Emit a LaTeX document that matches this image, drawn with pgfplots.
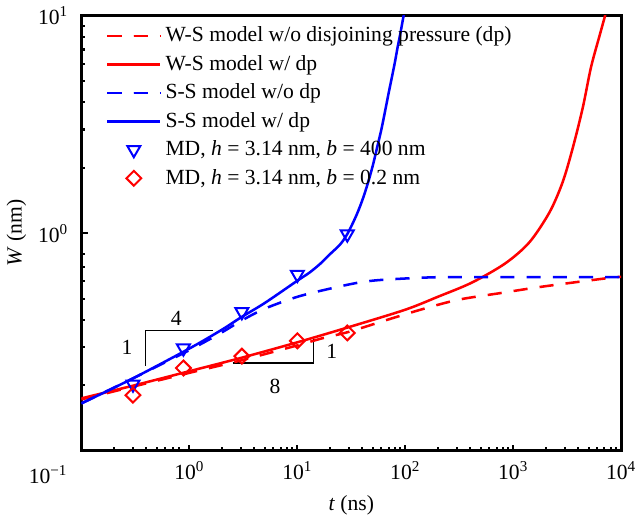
\documentclass[border=0pt]{standalone}
\usepackage{fontspec}
\setmainfont{Liberation Serif}
\usepackage{pgfplots}
\pgfplotsset{compat=1.18}
\begin{document}
\begin{tikzpicture}[font=\fontsize{10.7}{13}\selectfont]
\begin{axis}[scale only axis,width=267.5pt,height=215.5pt,
  xmode=log,ymode=log,xmin=0.1,xmax=10000,ymin=0.1,ymax=10,
  axis line style={line width=1.5pt},tick pos=left,tick align=inside,
  major tick length=3pt,minor tick length=1.8pt,every tick/.style={black,line width=1pt},
  xtick={0.1,1,10,100,1000,10000},xticklabels={,10\textsuperscript{0},10\textsuperscript{1},10\textsuperscript{2},10\textsuperscript{3},10\textsuperscript{4}},
  minor xtick={0.2,0.3,...,0.9,2,3,...,9,20,30,...,90,200,300,...,900,2000,3000,...,9000},
  ytick={0.1,1,10},yticklabels={,10\textsuperscript{0},10\textsuperscript{1}},
  minor ytick={0.2,0.3,...,0.9,2,3,...,9},
  xticklabel style={yshift=-2pt},yticklabel style={xshift=-3pt},
  xlabel={\textit{t} (ns)},ylabel={\textit{W} (nm)},
  xlabel style={yshift=-1pt},ylabel style={yshift=-1pt},
  legend style={at={(axis description cs:0.045,0.985)},anchor=north west,draw=none,fill=none,row sep=1.2pt,inner sep=0pt},
  legend cell align=left,
  legend image code/.code={\draw[mark repeat=2,mark phase=2] plot coordinates {(0cm,0cm)(0.46cm,0cm)(0.92cm,0cm)};},
  clip=true]
% slope guides
\draw[line width=0.5pt] (axis cs:1.64,0.356) -- (axis cs:0.388,0.356) -- (axis cs:0.388,0.245);
\draw[line width=0.5pt] (axis cs:2.52,0.253) -- (axis cs:14.1,0.253) -- (axis cs:14.1,0.327);
\node at (axis cs:0.757,0.404) {4};
\node at (axis cs:0.264,0.297) {1};
\node at (axis cs:20.8,0.287) {1};
\node at (axis cs:6.22,0.198) {8};
% W-S w/o dp
\addplot[red,line width=1.25pt,dash pattern=on 7pt off 6pt,smooth] coordinates {
(0.1,0.172)(0.3,0.197)(1,0.228)(3,0.26)(10,0.305)(17.5,0.33)(30,0.352)(74,0.405)(150,0.45)(313,0.495)(789,0.532)(1600,0.562)(3560,0.593)(8400,0.626)(10000,0.63)};
% W-S w/ dp
\addplot[red,line width=1.25pt,smooth] coordinates {
(0.1,0.174)(0.3,0.199)(1,0.232)(3,0.267)(10,0.315)(30,0.37)(100,0.445)(200,0.51)(414,0.593)(841,0.726)(1412,0.909)(2170,1.25)(2870,1.72)(3560,2.47)(4410,3.79)(5250,5.8)(6370,8.26)(7080,10)(7300,10.8)};
% S-S w/o dp
\addplot[blue,line width=1.25pt,dash pattern=on 7pt off 6pt,smooth] coordinates {
(0.1,0.165)(0.3,0.215)(1,0.29)(2,0.35)(3,0.395)(5,0.45)(10,0.51)(20,0.556)(37,0.593)(60,0.61)(150,0.625)(300,0.628)(10000,0.628)};
% S-S w/ dp
\addplot[blue,line width=1.25pt,smooth] coordinates {
(0.1,0.165)(0.3,0.215)(1,0.295)(2,0.36)(3,0.41)(5,0.478)(10,0.605)(13,0.66)(16.4,0.726)(20,0.80)(25,0.89)(29.3,1.0)(35,1.2)(40,1.42)(45,1.7)(50,2.05)(55,2.5)(60,3.0)(65,3.65)(70,4.4)(75,5.2)(80,6.1)(85,7.2)(90,8.3)(96,9.9)(100,11)};
% MD
\addplot[blue,only marks,mark=triangle,mark size=3.7pt,mark options={rotate=180,line width=1pt}] coordinates {
(0.3,0.202)(0.88,0.296)(3.06,0.435)(10,0.646)(29,0.99)};
\addplot[red,only marks,mark=square,mark size=2.6pt,mark options={rotate=45,line width=1pt}] coordinates {
(0.3,0.18)(0.88,0.24)(3.06,0.272)(10,0.32)(29,0.348)};
\legend{W-S model w/o disjoining pressure (dp),W-S model w/ dp,S-S model w/o dp,S-S model w/ dp,{MD, \textit{h} = 3.14 nm, \textit{b} = 400 nm},{MD, \textit{h} = 3.14 nm, \textit{b} = 0.2 nm}}
\end{axis}
\node at (-16.5pt,-12pt) {10\textsuperscript{−1}};
\end{tikzpicture}
\end{document}
